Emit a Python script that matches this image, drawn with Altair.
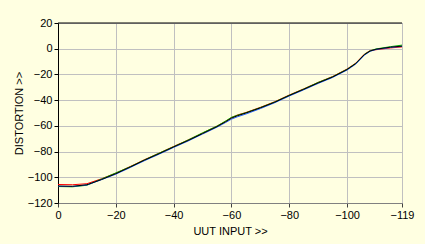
import altair as alt
import pandas as pd

x_input = [0, -5, -10, -15, -20, -25, -30, -35, -40, -45, -50, -55, -58, -60, -62,
           -65, -70, -75, -80, -85, -90, -95, -100, -103, -106, -108, -110, -115, -119]
black = [-106.8, -107.0, -105.8, -101.8, -97.2, -92.0, -86.6, -81.6, -76.4, -71.4,
         -66.0, -60.6, -56.8, -54.0, -52.2, -50.0, -46.0, -41.6, -36.4, -31.6,
         -26.6, -22.0, -16.2, -11.6, -4.6, -1.8, -0.4, 1.2, 2.0]
red = [-105.6, -105.8, -105.0, -101.2, -96.8, -91.6, -86.2, -81.2, -76.0, -71.0,
       -65.6, -60.2, -56.4, -53.6, -51.6, -49.6, -45.6, -41.2, -36.0, -31.2,
       -26.2, -21.6, -15.8, -11.2, -4.2, -1.4, -0.8, 0.6, 1.4]
green = [-107.2, -107.4, -106.2, -101.4, -96.6, -91.8, -86.4, -81.2, -76.2, -71.0,
         -65.4, -60.2, -56.2, -53.4, -51.8, -49.8, -45.8, -41.4, -36.2, -31.4,
         -26.2, -21.8, -16.0, -11.4, -4.4, -1.6, -0.2, 1.6, 2.8]
blue = [-107.0, -107.2, -106.0, -101.9, -97.6, -92.4, -87.0, -82.0, -76.8, -71.8,
        -66.4, -61.0, -57.4, -54.8, -53.0, -50.8, -46.6, -42.0, -36.8, -32.0,
        -27.0, -22.4, -16.6, -12.0, -5.0, -2.0, -0.6, 1.0, 1.8]

series = {"red": red, "green": green, "blue": blue, "black": black}
rows = []
for order, (name, vals) in enumerate(series.items()):
    for xv, yv in zip(x_input, vals):
        rows.append({"input": xv, "distortion": yv, "series": name, "ord": order})
df = pd.DataFrame(rows)

x_ticks = [0, -20, -40, -60, -80, -100, -119]
y_ticks = [20, 0, -20, -40, -60, -80, -100, -120]
BG = "#FFFFE1"
FONT = "Liberation Sans"

x_enc = alt.X("input:Q",
              scale=alt.Scale(domain=[0, -119], nice=False, zero=False),
              axis=alt.Axis(values=x_ticks, title="UUT INPUT >>", format="d",
                            domainColor="#808080", tickColor="#404040",
                            tickSize=4, labelPadding=2, titlePadding=5,
                            gridColor="#C0C0C0", labelFlush=False))
y_enc = alt.Y("distortion:Q",
              scale=alt.Scale(domain=[-120, 20], nice=False, zero=False),
              axis=alt.Axis(values=y_ticks, title="DISTORTION >>", format="d",
                            domainColor="#000000", tickColor="#000000",
                            tickSize=4, labelPadding=2, titlePadding=3,
                            gridColor="#C0C0C0"))

lines = alt.Chart(df).mark_line(strokeWidth=1, interpolate="linear").encode(
    x=x_enc, y=y_enc,
    color=alt.Color("series:N",
                    scale=alt.Scale(domain=["red", "green", "blue", "black"],
                                    range=["#FF0000", "#00B000", "#2060FF", "#000000"]),
                    legend=None),
    order=alt.Order("ord:Q"),
    detail="series:N",
)

top = alt.Chart(pd.DataFrame({"a": [0]})).mark_rule(color="#000000", strokeWidth=1).encode(
    x=alt.value(0), x2=alt.value(344), y=alt.value(0))

chart = alt.layer(lines, top).properties(
    width=344, height=180,
    background=BG,
    padding={"left": 58, "top": 23, "right": 23, "bottom": 41},
    autosize=alt.AutoSizeParams(type="none"),
).configure_view(stroke="#808080", fill=BG).configure_axis(
    labelFont=FONT, titleFont=FONT, labelFontSize=11, titleFontSize=11,
    titleFontWeight="normal", labelColor="#000000", titleColor="#000000",
)

chart.save("out.html", embed_options={"renderer": "svg", "actions": False})
